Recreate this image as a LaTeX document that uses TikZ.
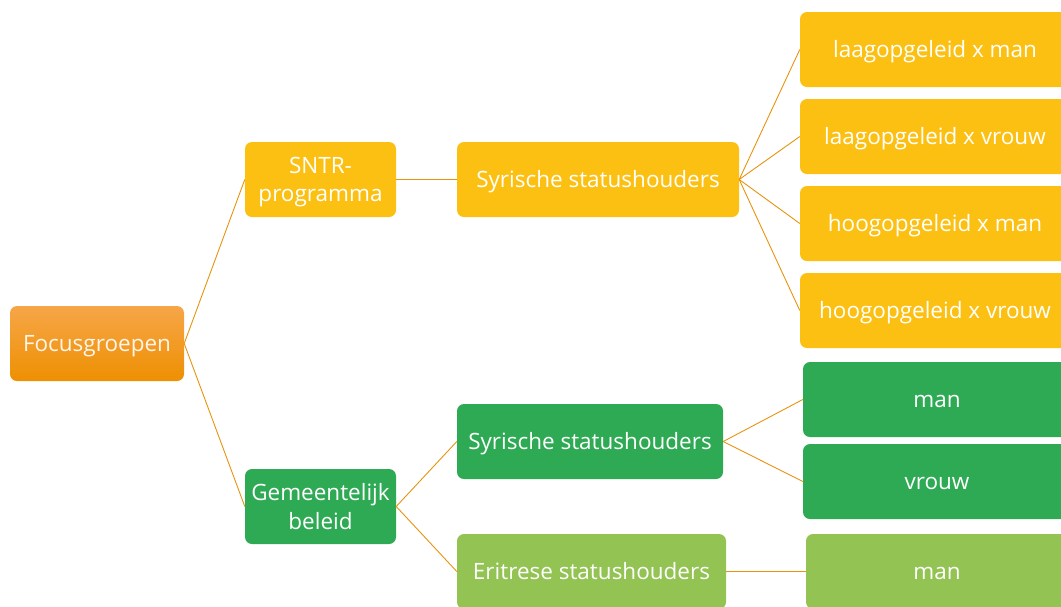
\documentclass[tikz,border=0pt]{standalone}
\usepackage{fontspec}
\setmainfont{Open Sans}
\definecolor{ylw}{HTML}{FCC013}
\definecolor{grn}{HTML}{2EAA54}
\definecolor{lgrn}{HTML}{92C353}
\definecolor{otop}{HTML}{F6A648}
\definecolor{obot}{HTML}{EE9002}
\definecolor{conn}{HTML}{E8930E}
\begin{document}
\begin{tikzpicture}[x=1pt,y=-1pt,
  box/.style={rounded corners=7pt, text=white, align=center, inner sep=0pt,
    minimum height=75pt, text depth=0pt, font=\fontsize{22.5}{28.5}\selectfont},
  oneline/.style={text height=16.5pt},
  ybox/.style={box, fill=ylw},
  gbox/.style={box, fill=grn},
  lbox/.style={box, fill=lgrn},
  link/.style={draw=conn, line width=0.9pt}]
\useasboundingbox (0,0) rectangle (1061,606);
\clip (0,0) rectangle (1061,606);
\node[box, oneline, top color=otop, bottom color=obot, minimum width=174pt, text=white!92!orange] (root) at (97,343.5) {Focusgroepen};
\node[ybox, minimum width=151pt] (sntr) at (320.5,179.5) {SNTR-\\programma};
\node[gbox, minimum width=151pt] (gem) at (320.5,506.5) {Gemeentelijk\\beleid};
\node[ybox, oneline, minimum width=282pt] (sy1) at (598,179.5) {Syrische statushouders};
\node[gbox, oneline, minimum width=266pt] (sy2) at (590,441.5) {Syrische statushouders};
\node[lbox, oneline, minimum width=269pt] (eri) at (591.5,571.5) {Eritrese statushouders};
\node[ybox, oneline, minimum width=270pt] (l1) at (935,49.5) {laagopgeleid x man};
\node[ybox, oneline, minimum width=270pt] (l2) at (935,136.5) {laagopgeleid x vrouw};
\node[ybox, oneline, minimum width=270pt] (l3) at (935,223.5) {hoogopgeleid x man};
\node[ybox, oneline, minimum width=270pt] (l4) at (935,310.5) {hoogopgeleid x vrouw};
\node[gbox, oneline, minimum width=268pt] (m1) at (937,399.5) {man};
\node[gbox, oneline, minimum width=268pt] (v1) at (937,481.5) {vrouw};
\node[lbox, oneline, minimum width=262pt] (m2) at (937,571.5) {man};
\path[link] (root.east) -- (sntr.west);
\path[link] (root.east) -- (gem.west);
\path[link] (sntr.east) -- (sy1.west);
\path[link] (gem.east) -- (sy2.west);
\path[link] (gem.east) -- (eri.west);
\path[link] (sy1.east) -- (l1.west);
\path[link] (sy1.east) -- (l2.west);
\path[link] (sy1.east) -- (l3.west);
\path[link] (sy1.east) -- (l4.west);
\path[link] (sy2.east) -- (m1.west);
\path[link] (sy2.east) -- (v1.west);
\path[link] (eri.east) -- (m2.west);
\end{tikzpicture}
\end{document}
